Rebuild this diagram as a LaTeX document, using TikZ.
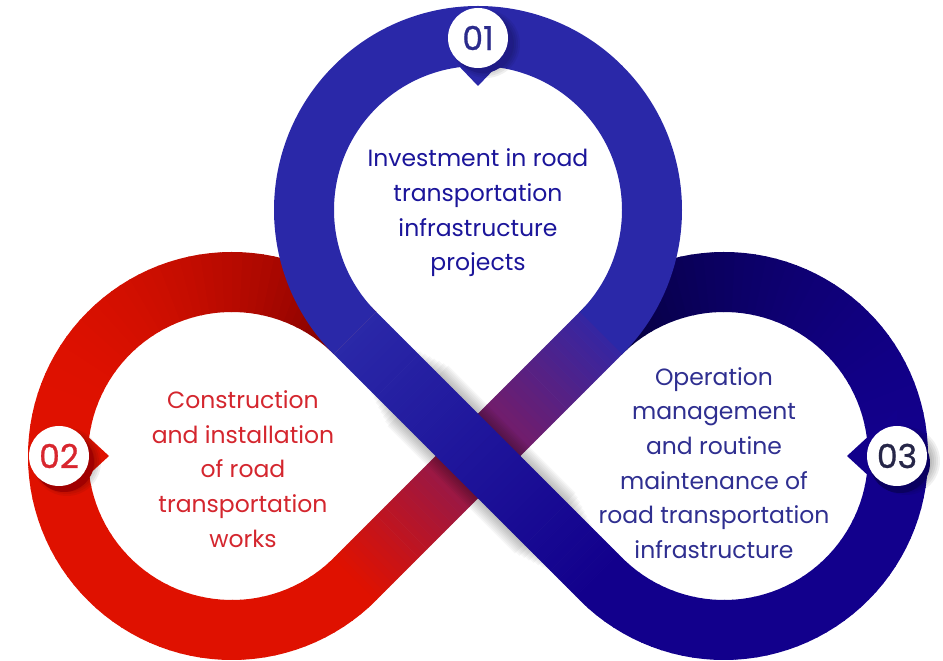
\documentclass[tikz,border=0pt]{standalone}
\usepackage{fontspec}
\newfontfamily\popfont{Poppins}
\newfontfamily\popnum[FakeBold=0.8]{Poppins}
\begin{document}
\begin{tikzpicture}[x=1pt,y=1pt,
  badge/.style={circle, fill=white, minimum size=60pt, inner sep=0pt,
    font=\popnum\fontsize{33}{33}\selectfont},
  caption/.style={align=center, inner sep=0pt,
    font=\popfont\fontsize{23.5}{34.7}\selectfont}]
\useasboundingbox (0,0) rectangle (943,661);

% palette
\definecolor{redBright}{HTML}{DF1100}
\definecolor{redDark}{HTML}{7E0000}
\definecolor{navyBright}{HTML}{12008C}
\definecolor{navyDark}{HTML}{05003A}
\definecolor{topBlue}{HTML}{2A28A8}
\definecolor{stripMid}{HTML}{851A5A}
\definecolor{stripEnd}{HTML}{3526A2}
\definecolor{topShade}{HTML}{1F1B85}
\definecolor{redShade}{HTML}{A00000}
\definecolor{navyShade}{HTML}{0A0060}
\definecolor{topText}{HTML}{1B159A}
\definecolor{leftText}{HTML}{D4262E}
\definecolor{rightText}{HTML}{2F2F90}
\definecolor{numOne}{HTML}{2B2B8C}
\definecolor{numTwo}{HTML}{D8262E}
\definecolor{numThree}{HTML}{262648}

\def\ringIn{144}
\def\ringOut{204}

% loop centres and crossing point
\coordinate (T) at (478,451);
\coordinate (L) at (232,205);
\coordinate (R) at (724,205);
\coordinate (X) at (478,205);

% left loop: bright red, darkening towards its upper end
\foreach \a in {45,48,...,312}{
  \pgfmathsetmacro{\b}{\a+3.4}
  \pgfmathsetmacro{\t}{(315-\a)/270}
  \pgfmathsetmacro{\q}{max(0.001,(\t-0.55)/0.45)}
  \pgfmathsetmacro{\p}{100*\q^2}
  \colorlet{segc}{redDark!\p!redBright}
  \fill[segc, shift={(L)}] (\a:\ringOut) arc[start angle=\a, end angle=\b, radius=\ringOut]
    -- (\b:\ringIn) arc[start angle=\b, end angle=\a, radius=\ringIn] -- cycle;
}

% right loop: navy, darkening towards its upper end
\foreach \a in {-135,-132,...,132}{
  \pgfmathsetmacro{\b}{\a+3.4}
  \pgfmathsetmacro{\t}{(\a+135)/270}
  \pgfmathsetmacro{\q}{max(0.001,(\t-0.5)/0.5)}
  \pgfmathsetmacro{\p}{100*\q^1.6}
  \colorlet{segc}{navyDark!\p!navyBright}
  \fill[segc, shift={(R)}] (\a:\ringOut) arc[start angle=\a, end angle=\b, radius=\ringOut]
    -- (\b:\ringIn) arc[start angle=\b, end angle=\a, radius=\ringIn] -- cycle;
}

% rising strip: red to purple to blue
\begin{scope}[shift={(X)}, rotate=45]
  \foreach \i in {0,...,57}{
    \pgfmathsetmacro{\xa}{-174+6*\i}
    \pgfmathsetmacro{\xb}{\xa+6.5}
    \pgfmathsetmacro{\u}{(\i+0.5)/58}
    \ifnum\i<29
      \pgfmathsetmacro{\p}{200*\u}
      \colorlet{segc}{stripMid!\p!redBright}
    \else
      \pgfmathsetmacro{\p}{200*\u-100}
      \colorlet{segc}{stripEnd!\p!stripMid}
    \fi
    \fill[segc] (\xa,-30) rectangle (\xb,30);
  }
\end{scope}

% soft shadow cast by the falling strip
\begin{scope}[shift={(X)}, rotate=-45]
  \foreach \k in {1,...,8}{
    \fill[black, opacity=0.035] ({-125+5*\k},{-30-1.6*\k}) rectangle ({135-5*\k},{30+1.6*\k});
  }
\end{scope}

% top loop
\fill[topBlue, shift={(T)}] (-45:\ringOut) arc[start angle=-45, end angle=225, radius=\ringOut]
  -- (225:\ringIn) arc[start angle=225, end angle=-45, radius=\ringIn] -- cycle;

% falling strip: blue to navy
\begin{scope}[shift={(X)}, rotate=-45]
  \foreach \i in {0,...,57}{
    \pgfmathsetmacro{\xa}{-174+6*\i}
    \pgfmathsetmacro{\xb}{\xa+6.5}
    \pgfmathsetmacro{\p}{100*(\i+0.5)/58}
    \colorlet{segc}{navyBright!\p!topBlue}
    \fill[segc] (\xa,-30) rectangle (\xb,30);
  }
\end{scope}

% number badges
\coordinate (B1) at (478,623);
\coordinate (B2) at (59,205);
\coordinate (B3) at (897,205);

\fill[topBlue, shift={(B1)}] (-46,0) -- (46,0) -- (0,-48) -- cycle;
\fill[redBright, shift={(B2)}] (0,46) -- (0,-46) -- (50,0) -- cycle;
\fill[navyBright, shift={(B3)}] (0,46) -- (0,-46) -- (-50,0) -- cycle;

\foreach \k in {0,...,4}{
  \fill[black, opacity=0.06, shift={(B1)}] (8,-6) circle[radius=26+2*\k];
  \fill[black, opacity=0.06, shift={(B2)}] (8,-6) circle[radius=26+2*\k];
  \fill[black, opacity=0.06, shift={(B3)}] (9,-5) circle[radius=26+2*\k];
}
\fill[topShade, shift={(B1)}] (5,-5) circle[radius=30];
\fill[redShade, shift={(B2)}] (5,-6) circle[radius=30];
\fill[navyShade, shift={(B3)}] (3,-7) circle[radius=30];

\node[badge, text=numOne] (b1) at (B1) {01};
\node[badge, text=numTwo] (b2) at (B2) {02};
\node[badge, text=numThree] (b3) at (B3) {03};

% captions
\node[caption, text=topText] (c1) at (478,448)
  {Investment in road\\transportation\\infrastructure\\projects};
\node[caption, text=leftText] (c2) at (243,192)
  {Construction\\and installation\\of road\\transportation\\works};
\node[caption, text=rightText] (c3) at (714,198)
  {Operation\\management\\and routine\\maintenance of\\road transportation\\infrastructure};
\end{tikzpicture}
\end{document}
